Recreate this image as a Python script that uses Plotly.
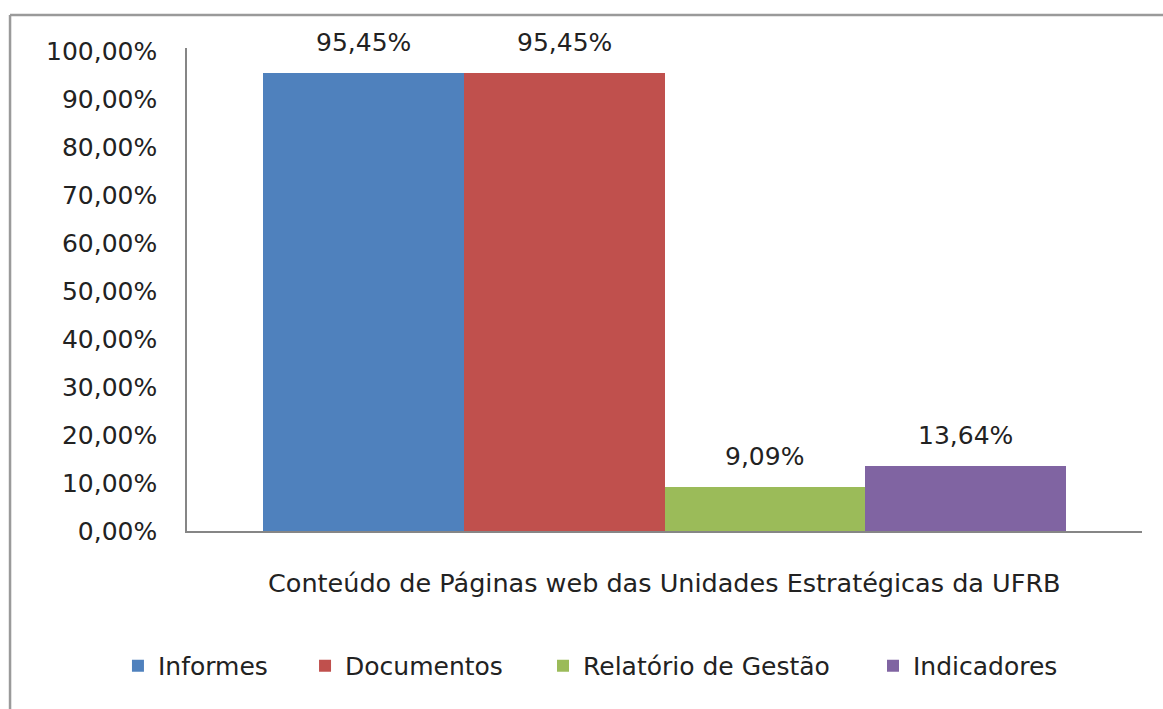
import plotly.graph_objects as go

categories = ["Informes", "Documentos", "Relatório de Gestão", "Indicadores"]
values = [0.9545, 0.9545, 0.0909, 0.1364]
colors = ["#4F81BD", "#C0504D", "#9BBB59", "#8064A2"]
y_ticks = [i / 10 for i in range(11)]
x_title = "Conteúdo de Páginas web das Unidades Estratégicas da UFRB"

# legend entry positions (paper coords), one legend box per series
legend_x = [-0.0723, 0.1236, 0.3728, 0.7183]

FONT = "DejaVu Sans"
TXT = "#222222"
FS = 25

fig = go.Figure()
legend_ids = ["legend", "legend2", "legend3", "legend4"]
for cat, val, col, lid in zip(categories, values, colors, legend_ids):
    fig.add_trace(go.Bar(x=[cat], y=[val], name=cat, legend=lid,
                         marker=dict(color=col, line=dict(width=0)), hoverinfo="skip"))

annotations = []
for cat, val in zip(categories, values):
    annotations.append(dict(x=cat, y=val, xref="x", yref="y",
                            text=f"{val*100:.2f}%".replace(".", ","),
                            showarrow=False, yanchor="bottom", yshift=14,
                            font=dict(family=FONT, size=FS, color=TXT)))
annotations.append(dict(x=0.5, y=-0.108, xref="paper", yref="paper", text=x_title,
                        showarrow=False, xanchor="center", yanchor="middle",
                        font=dict(family=FONT, size=FS + 0.5, color=TXT)))

shapes = [
    dict(type="line", xref="paper", yref="paper", x0=-0.1853, x1=1.2, y0=1.0684, y1=1.0684,
         line=dict(color="#9a9a9a", width=2.5)),
    dict(type="line", xref="paper", yref="paper", x0=-0.1853, x1=-0.1853, y0=1.0684, y1=-0.5,
         line=dict(color="#9a9a9a", width=2.5)),
]

legend_common = dict(orientation="h", xanchor="left", y=-0.2795, yanchor="middle",
                     font=dict(family=FONT, size=25, color=TXT), itemclick=False,
                     bgcolor="rgba(0,0,0,0)")
legends = {}
for lid, lx in zip(legend_ids, legend_x):
    legends[lid] = dict(legend_common, x=lx)

fig.update_layout(
    width=1163, height=709,
    margin=dict(l=187, r=21, t=48, b=178),
    paper_bgcolor="white", plot_bgcolor="white",
    separators=",.",
    barmode="overlay", bargap=0,
    showlegend=True,
    annotations=annotations,
    shapes=shapes,
    xaxis=dict(type="category", range=[-0.88, 3.88], showticklabels=False, ticks="",
               showline=True, linecolor="#868686", linewidth=1.5, showgrid=False, zeroline=False,
               fixedrange=True),
    yaxis=dict(range=[0, 1.006], tickvals=y_ticks, tickformat=".2%", ticks="",
               showline=True, linecolor="#868686", linewidth=1.5, showgrid=False, zeroline=False,
               ticklabelstandoff=23,
               tickfont=dict(family=FONT, size=FS, color=TXT), fixedrange=True),
    **legends,
)

fig.write_html("out.html", config={"displayModeBar": False},
               post_script="document.body.style.margin='0';")
